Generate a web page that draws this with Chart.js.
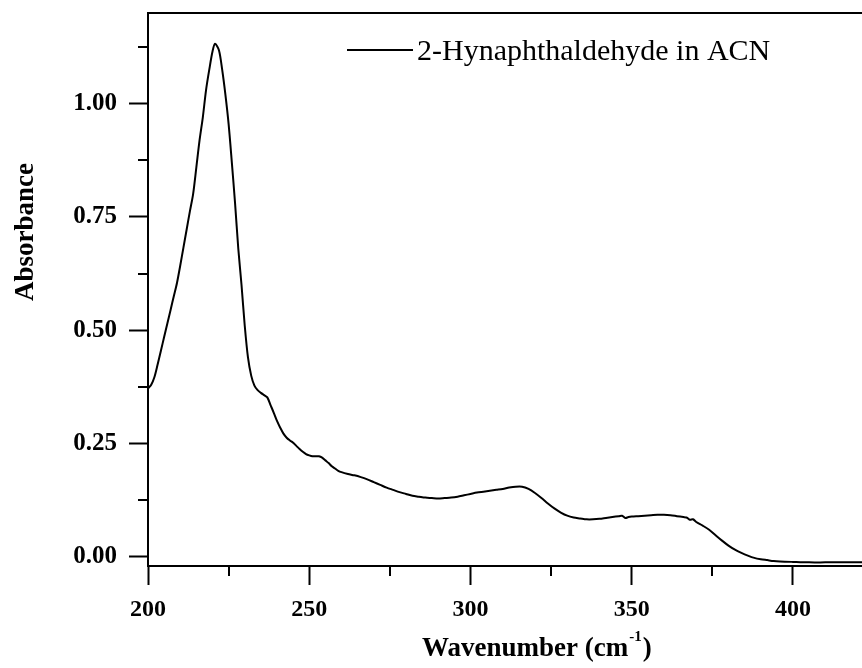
<!DOCTYPE html>
<html>
<head>
<meta charset="utf-8">
<script src="https://cdn.jsdelivr.net/npm/chart.js@4.4.0/dist/chart.umd.min.js"></script>
<style>
  html, body { margin: 0; padding: 0; background: #fff; }
  #wrap { width: 862px; height: 668px; }
</style>
</head>
<body>
<div id="wrap"><canvas id="spectrum" width="862" height="668"></canvas></div>
<script>
// values
const wavenumber = [
  200, 201, 202, 203, 204, 205, 206, 207, 208, 209,
  210, 211, 212, 213, 214, 215, 216, 217, 218, 219,
  220, 220.8, 222, 223, 224, 225, 226, 227, 228, 229,
  230, 231, 232, 233, 234, 235, 236, 237, 238, 239,
  240, 241, 242, 243, 244, 245, 246, 247, 248, 249,
  250, 251, 252, 253, 254, 255, 256, 257, 258, 259,
  260, 262, 264, 266, 268, 270, 272, 274, 276, 278,
  280, 282, 284, 286, 288, 290, 292, 294, 296, 298,
  300, 302, 304, 306, 308, 310, 312, 314, 316, 318,
  320, 322, 324, 326, 328, 330, 332, 334, 336, 338,
  340, 342, 344, 346, 347, 348, 349, 350, 352, 354,
  356, 358, 360, 362, 364, 366, 367, 368, 369, 370,
  372, 374, 376, 378, 380, 382, 384, 386, 388, 390,
  392, 394, 396, 400, 405, 410, 415, 421.5
];
const absorbance = [
  0.372, 0.380, 0.397, 0.425, 0.455, 0.485, 0.515, 0.545, 0.575, 0.605,
  0.643, 0.683, 0.723, 0.763, 0.801, 0.860, 0.920, 0.970, 1.030, 1.075,
  1.115, 1.132, 1.118, 1.075, 1.020, 0.955, 0.870, 0.780, 0.680, 0.600,
  0.510, 0.440, 0.400, 0.378, 0.368, 0.362, 0.357, 0.352, 0.335, 0.318,
  0.300, 0.285, 0.272, 0.263, 0.257, 0.252, 0.245, 0.238, 0.232, 0.227,
  0.224, 0.222, 0.222, 0.222, 0.219, 0.213, 0.207, 0.200, 0.195, 0.190,
  0.187, 0.183, 0.180, 0.176, 0.171, 0.165, 0.159, 0.153, 0.148, 0.143,
  0.139, 0.135, 0.133, 0.131, 0.130, 0.129, 0.130, 0.131, 0.133, 0.136,
  0.139, 0.142, 0.144, 0.146, 0.148, 0.150, 0.153, 0.155, 0.155, 0.150,
  0.141, 0.130, 0.118, 0.107, 0.098, 0.091, 0.087, 0.085, 0.083, 0.083,
  0.084, 0.086, 0.088, 0.090, 0.091, 0.086, 0.088, 0.089, 0.090, 0.091,
  0.092, 0.093, 0.093, 0.092, 0.090, 0.088, 0.087, 0.082, 0.083, 0.077,
  0.069, 0.060, 0.048, 0.036, 0.025, 0.016, 0.009, 0.003, -0.002, -0.005,
  -0.007, -0.009, -0.010, -0.011, -0.012, -0.012, -0.012, -0.012
];
const xMajorTicks = [200, 250, 300, 350, 400];
const xMinorTicks = [225, 275, 325, 375];
const yMajorTicks = [0, 0.25, 0.5, 0.75, 1.0];
const yMinorTicks = [0.125, 0.375, 0.625, 0.875, 1.125];
const seriesLabel = '2-Hynaphthaldehyde in ACN';
const yTitle = 'Absorbance';

const serif = "'Liberation Serif', 'Times New Roman', serif";

// top frame line, minor ticks, legend and axis titles
const framePlugin = {
  id: 'frame',
  afterDraw(chart) {
    const c = chart.ctx;
    const a = chart.chartArea;
    const xs = chart.scales.x, ys = chart.scales.y;
    c.save();
    c.strokeStyle = '#000';
    c.fillStyle = '#000';
    c.lineWidth = 2;

    c.beginPath();
    c.moveTo(a.left - 1, a.top);
    c.lineTo(a.right, a.top);
    c.stroke();

    xMinorTicks.forEach(v => {
      const px = Math.round(xs.getPixelForValue(v));
      c.beginPath();
      c.moveTo(px, a.bottom);
      c.lineTo(px, a.bottom + 10);
      c.stroke();
    });
    yMinorTicks.forEach(v => {
      const py = Math.round(ys.getPixelForValue(v));
      c.beginPath();
      c.moveTo(a.left - 10, py);
      c.lineTo(a.left, py);
      c.stroke();
    });

    // legend
    c.beginPath();
    c.moveTo(347, 50);
    c.lineTo(413, 50);
    c.stroke();
    c.font = '30px ' + serif;
    c.textBaseline = 'alphabetic';
    c.textAlign = 'left';
    c.fillText(seriesLabel, 417, 60);

    // y title
    c.save();
    c.translate(33, 232);
    c.rotate(-Math.PI / 2);
    c.font = 'bold 27px ' + serif;
    c.textAlign = 'center';
    c.fillText(yTitle, 0, 0);
    c.restore();

    // x title with superscript
    let x = 422;
    const base = 656;
    c.font = 'bold 27px ' + serif;
    c.fillText('Wavenumber (cm', x, base);
    x += c.measureText('Wavenumber (cm').width + 1;
    c.font = 'bold 15px ' + serif;
    c.fillText('-1', x, base - 15);
    x += c.measureText('-1').width + 1;
    c.font = 'bold 27px ' + serif;
    c.fillText(')', x, base);
    c.restore();
  }
};

const ctx = document.getElementById('spectrum');
new Chart(ctx, {
  type: 'line',
  data: {
    datasets: [{
      label: seriesLabel,
      data: wavenumber.map((w, i) => ({ x: w, y: absorbance[i] })),
      borderColor: '#000',
      borderWidth: 2,
      pointRadius: 0,
      tension: 0.3,
      fill: false
    }]
  },
  options: {
    responsive: false,
    animation: false,
    events: [],
    layout: { padding: { top: 13, right: 0, left: 0, bottom: 0 } },
    plugins: { legend: { display: false }, tooltip: { enabled: false } },
    scales: {
      x: {
        type: 'linear',
        min: 200,
        max: 421.4,
        afterFit: s => {
          s.height = 102;
          s.paddingLeft = 0;
          s.paddingRight = 0;
        },
        afterBuildTicks: s => { s.ticks = xMajorTicks.map(v => ({ value: v })); },
        grid: { drawOnChartArea: false, drawTicks: true, tickLength: 19, tickWidth: 2, tickColor: '#000' },
        border: { display: true, color: '#000', width: 2 },
        ticks: {
          color: '#000',
          font: { family: serif, size: 24, weight: 'bold' },
          padding: 10,
          maxRotation: 0,
          autoSkip: false,
          callback: v => String(v)
        }
      },
      y: {
        type: 'linear',
        min: -0.02,
        max: 1.2,
        afterFit: s => {
          s.width = 148;
          s.paddingTop = 0;
          s.paddingBottom = 0;
        },
        afterBuildTicks: s => { s.ticks = yMajorTicks.map(v => ({ value: v })); },
        grid: { drawOnChartArea: false, drawTicks: true, tickLength: 19, tickWidth: 2, tickColor: '#000' },
        border: { display: true, color: '#000', width: 2 },
        ticks: {
          color: '#000',
          font: { family: serif, size: 25, weight: 'bold' },
          padding: 12,
          autoSkip: false,
          callback: v => v.toFixed(2)
        }
      }
    }
  },
  plugins: [framePlugin]
});
</script>
</body>
</html>
